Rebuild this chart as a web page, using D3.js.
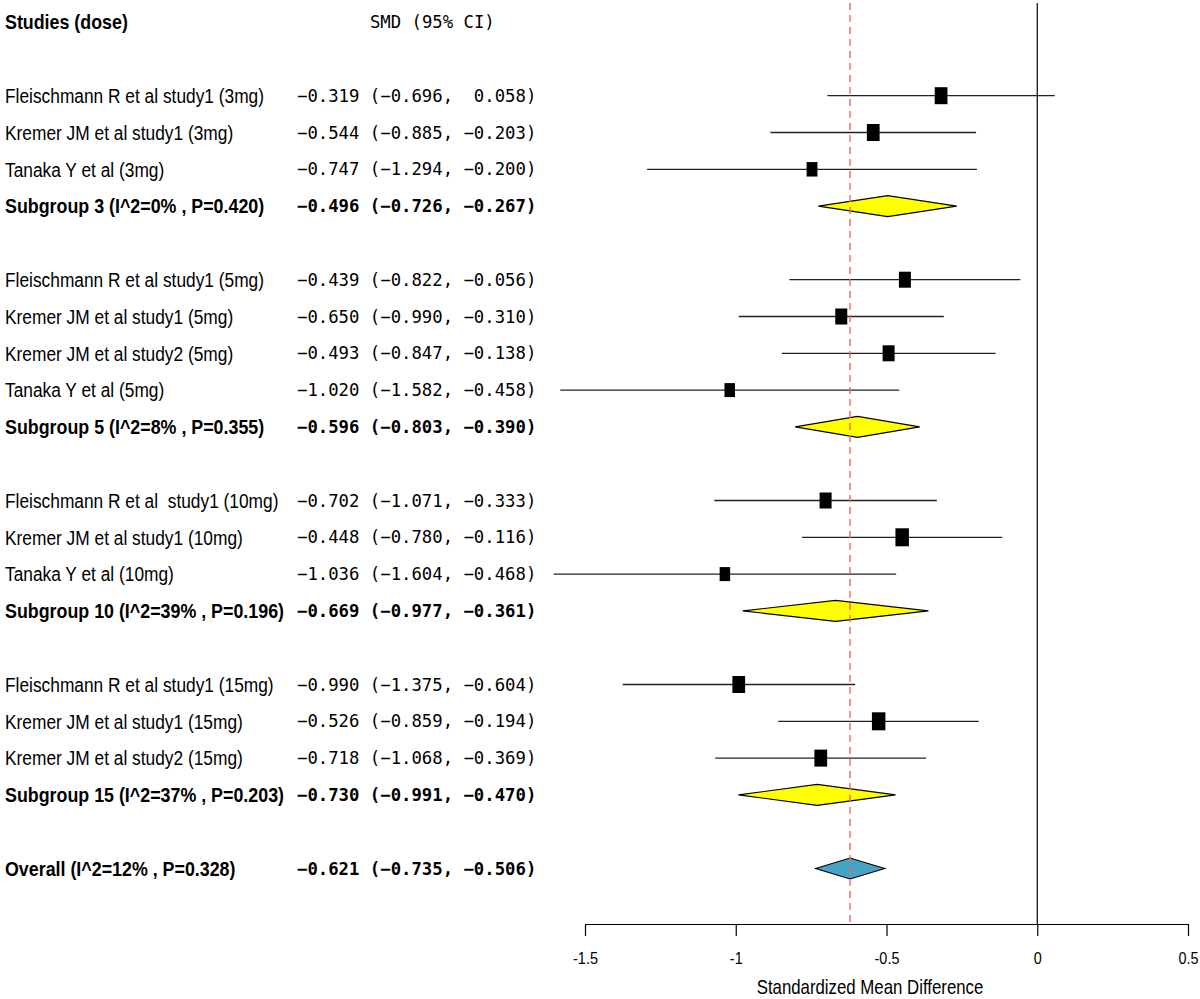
<!DOCTYPE html>
<html>
<head>
<meta charset="utf-8">
<script src="https://cdn.jsdelivr.net/npm/d3@7"></script>
<style>
  html, body { margin: 0; padding: 0; background: #fff; }
  svg { display: block; }
</style>
</head>
<body>
<svg id="chart" width="1200" height="999"></svg>
<script>
// ---------------- DATA ----------------
const studyLabels = [
  "Fleischmann R et al study1 (3mg)",
  "Kremer JM et al study1 (3mg)",
  "Tanaka Y et al (3mg)",
  "Fleischmann R et al study1 (5mg)",
  "Kremer JM et al study1 (5mg)",
  "Kremer JM et al study2 (5mg)",
  "Tanaka Y et al (5mg)",
  "Fleischmann R et al  study1 (10mg)",
  "Kremer JM et al study1 (10mg)",
  "Tanaka Y et al (10mg)",
  "Fleischmann R et al study1 (15mg)",
  "Kremer JM et al study1 (15mg)",
  "Kremer JM et al study2 (15mg)"
];
const studyGroup = [3, 3, 3, 5, 5, 5, 5, 10, 10, 10, 15, 15, 15];
const studySmd   = [-0.319, -0.544, -0.747, -0.439, -0.650, -0.493, -1.020, -0.702, -0.448, -1.036, -0.990, -0.526, -0.718];
const studyLower = [-0.696, -0.885, -1.294, -0.822, -0.990, -0.847, -1.582, -1.071, -0.780, -1.604, -1.375, -0.859, -1.068];
const studyUpper = [ 0.058, -0.203, -0.200, -0.056, -0.310, -0.138, -0.458, -0.333, -0.116, -0.468, -0.604, -0.194, -0.369];
const studyWeight = [38, 38, 18, 30, 30, 30, 14, 30, 46, 14, 38, 46, 38]; // estimated relative weights

const subgroupDose   = [3, 5, 10, 15];
const subgroupLabels = [
  "Subgroup 3 (I^2=0% , P=0.420)",
  "Subgroup 5 (I^2=8% , P=0.355)",
  "Subgroup 10 (I^2=39% , P=0.196)",
  "Subgroup 15 (I^2=37% , P=0.203)"
];
const subgroupSmd   = [-0.496, -0.596, -0.669, -0.730];
const subgroupLower = [-0.726, -0.803, -0.977, -0.991];
const subgroupUpper = [-0.267, -0.390, -0.361, -0.470];

const overallLabel = "Overall (I^2=12% , P=0.328)";
const overallSmd = -0.621, overallLower = -0.735, overallUpper = -0.506;

const headerStudy = "Studies (dose)";
const headerSmd = "SMD (95% CI)";
const axisTicks = [-1.5, -1, -0.5, 0, 0.5];
const axisTitle = "Standardized Mean Difference";

// ---------------- BUILD ROWS ----------------
const rows = [];
subgroupDose.forEach((dose, gi) => {
  studyLabels.forEach((lab, i) => {
    if (studyGroup[i] === dose) rows.push({type: "study", label: lab, est: studySmd[i], lo: studyLower[i], hi: studyUpper[i], w: studyWeight[i]});
  });
  rows.push({type: "sub", label: subgroupLabels[gi], est: subgroupSmd[gi], lo: subgroupLower[gi], hi: subgroupUpper[gi]});
  rows.push({type: "blank"});
});
rows.push({type: "overall", label: overallLabel, est: overallSmd, lo: overallLower, hi: overallUpper});
rows.forEach((r, i) => r.row = i);
const drawn = rows.filter(r => r.type !== "blank");

// ---------------- SCALES ----------------
const svg = d3.select("#chart");
const x = d3.scaleLinear().domain([-1.5, 0.5]).range([585, 1188]);
const y = d3.scaleLinear().domain([0, rows.length - 1]).range([95.7, 868.5]);
const boxH = d3.scaleLinear().domain([10, 50]).range([13.5, 18.5]);
const axisY = 924;
const topY = 3;

const labelFont = "'Liberation Sans Narrow', 'Arial Narrow', 'Liberation Sans', Arial, sans-serif";
const monoFont = "'DejaVu Sans Mono', 'Liberation Mono', monospace";
const monoSize = 17.3;
const charW = monoSize * 0.602;
const numX = 297;
const labelSize = 21;
const sxNormal = 0.825, sxBold = 0.85;

const fmt = d3.format(".3f");
const pad = (s, n) => s.padStart(n, " ");
const ciText = d => fmt(d.est) + " (" + fmt(d.lo) + ", " + pad(fmt(d.hi), 6) + ")";

// ---------------- HEADERS ----------------
svg.append("text")
  .attr("transform", `translate(5,22) scale(${sxBold},1)`).attr("dy", "0.35em")
  .style("font-family", labelFont).style("font-size", labelSize + "px").style("font-weight", "bold")
  .text(headerStudy);
svg.append("text")
  .attr("x", numX + 7 * charW).attr("y", 22).attr("dy", "0.35em")
  .style("font-family", monoFont).style("font-size", monoSize + "px")
  .style("white-space", "pre")
  .text(headerSmd);

// ---------------- REFERENCE LINES ----------------
svg.append("line")
  .attr("x1", x(0)).attr("x2", x(0)).attr("y1", topY).attr("y2", axisY)
  .attr("stroke", "#000").attr("stroke-width", 1.2);

// ---------------- LABELS ----------------
svg.selectAll("text.lab").data(drawn).join("text")
  .attr("class", "lab")
  .attr("transform", d => `translate(5,${y(d.row)}) scale(${d.type === "study" ? sxNormal : sxBold},1)`)
  .attr("dy", "0.35em")
  .style("font-family", labelFont).style("font-size", labelSize + "px")
  .style("font-weight", d => d.type === "study" ? "normal" : "bold")
  .style("white-space", "pre")
  .text(d => d.label);

svg.selectAll("text.ci").data(drawn).join("text")
  .attr("class", "ci")
  .attr("x", numX).attr("y", d => y(d.row)).attr("dy", "0.35em")
  .style("font-family", monoFont).style("font-size", monoSize + "px")
  .style("font-weight", d => d.type === "study" ? "normal" : "bold")
  .style("white-space", "pre")
  .text(ciText);

// ---------------- STUDY MARKS ----------------
const studies = drawn.filter(d => d.type === "study");
svg.selectAll("line.ci").data(studies).join("line")
  .attr("class", "ci")
  .attr("x1", d => x(d.lo)).attr("x2", d => x(d.hi))
  .attr("y1", d => y(d.row)).attr("y2", d => y(d.row))
  .attr("stroke", "#222").attr("stroke-width", 1.3);

svg.selectAll("rect.box").data(studies).join("rect")
  .attr("class", "box")
  .attr("x", d => x(d.est) - boxH(d.w) * 0.375)
  .attr("y", d => y(d.row) - boxH(d.w) / 2)
  .attr("width", d => boxH(d.w) * 0.75)
  .attr("height", d => boxH(d.w))
  .attr("fill", "#000");

// ---------------- DIAMONDS ----------------
const diamonds = drawn.filter(d => d.type !== "study");
svg.selectAll("path.diamond").data(diamonds).join("path")
  .attr("class", "diamond")
  .attr("d", d => {
    const cy = y(d.row), h = 10.5;
    return `M${x(d.lo)},${cy} L${x(d.est)},${cy - h} L${x(d.hi)},${cy} L${x(d.est)},${cy + h} Z`;
  })
  .attr("fill", d => d.type === "overall" ? "#46A3C4" : "#FFFF00")
  .attr("stroke", "#000").attr("stroke-width", 1.1);

// dashed overall line
svg.append("line")
  .attr("x1", x(overallSmd)).attr("x2", x(overallSmd)).attr("y1", topY).attr("y2", axisY)
  .attr("stroke", "#EE6A6A").attr("stroke-width", 1.4).attr("stroke-dasharray", "7,5");

// ---------------- AXIS ----------------
const axis = d3.axisBottom(x).tickValues(axisTicks).tickFormat(d => String(d)).tickSize(12).tickSizeOuter(0).tickPadding(16);
const ax = svg.append("g").attr("transform", `translate(0,${axisY})`).call(axis);
ax.select(".domain").attr("stroke", "#000").attr("stroke-width", 1.2);
ax.selectAll(".tick line").attr("stroke", "#000").attr("stroke-width", 1.2);
ax.selectAll(".tick text")
  .style("font-family", labelFont).style("font-size", "17px").attr("fill", "#000")
  .attr("transform", "scale(0.85,1)");

svg.append("text")
  .attr("transform", "translate(870,987) scale(0.82,1)").attr("dy", "0.35em").attr("text-anchor", "middle")
  .style("font-family", labelFont).style("font-size", "20.5px")
  .text(axisTitle);
</script>
</body>
</html>
